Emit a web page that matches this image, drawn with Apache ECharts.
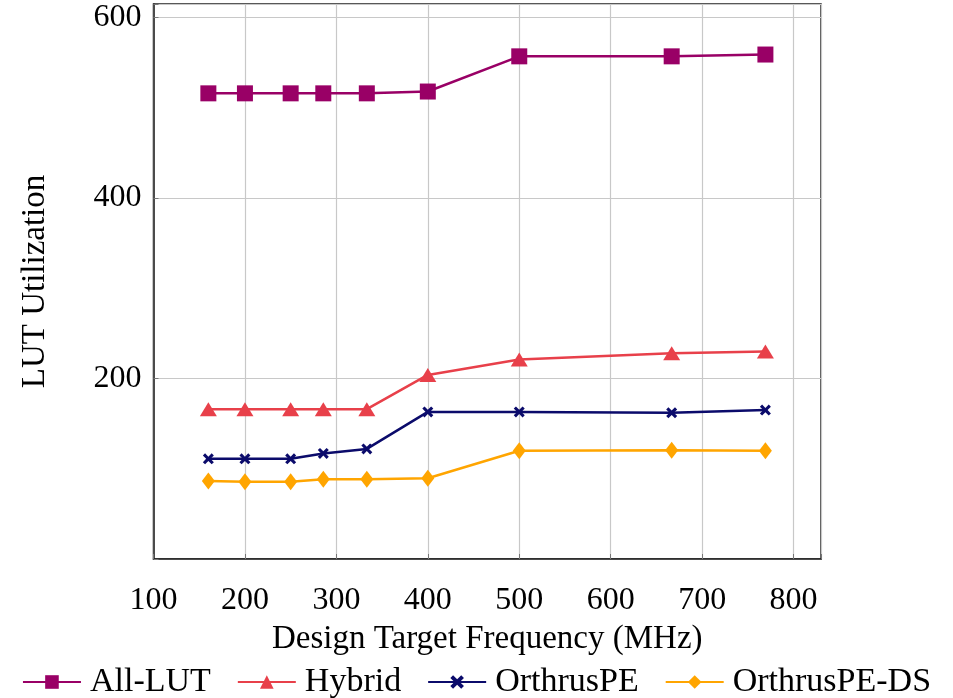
<!DOCTYPE html>
<html>
<head>
<meta charset="utf-8">
<script src="https://cdn.jsdelivr.net/npm/echarts@6/dist/echarts.min.js"></script>
<style>
html,body{margin:0;padding:0;background:#fff;}
#chart{width:953px;height:698px;}
</style>
</head>
<body>
<div id="chart"></div>
<script>
// Design target frequencies (MHz)
const freqs = [160, 200, 250, 285.7, 333.3, 400, 500, 666.7, 769.2];
const allLUT = [516, 516, 516, 516, 516, 518, 557, 557, 559];
const hybrid = [166, 166, 166, 166, 166, 204, 221, 228, 230];
const orthrusPE = [111, 111, 111, 117, 122, 163, 163, 162, 165];
const orthrusPEDS = [86.5, 85.5, 85.5, 88.5, 88.5, 89.5, 120, 120.5, 120];
const seriesNames = ['All-LUT', 'Hybrid', 'OrthrusPE', 'OrthrusPE-DS'];
const xTicks = [100, 200, 300, 400, 500, 600, 700, 800];
const yTicks = [200, 400, 600];

const FONT = '"Liberation Serif", "DejaVu Serif", serif';
const pairs = vals => freqs.map((f, i) => [f, vals[i]]);
const crossPath = 'path://M0,2 L2,0 L5,3 L8,0 L10,2 L7,5 L10,8 L8,10 L5,7 L2,10 L0,8 L3,5 Z';

const styles = [
  {color: '#990066', symbol: 'rect', size: 16},
  {color: '#E8404A', symbol: 'triangle', size: [17, 14]},
  {color: '#0B0B6B', symbol: crossPath, size: 11},
  {color: '#FFA500', symbol: 'diamond', size: [13, 17]}
];
const data = [allLUT, hybrid, orthrusPE, orthrusPEDS];

const chart = echarts.init(document.getElementById('chart'));
chart.setOption({
  animation: false,
  backgroundColor: '#fff',
  textStyle: {fontFamily: FONT},
  grid: {left: 153.5, right: 132, top: 4, bottom: 139, show: true, borderColor: '#222', borderWidth: 1.5, containLabel: false},
  legend: {
    top: 660, left: 'center',
    itemWidth: 58, itemHeight: 17, itemGap: 26,
    textStyle: {fontFamily: FONT, fontSize: 34, color: '#000', padding: [0, 0, 0, 4]},
    data: seriesNames
  },
  xAxis: {
    type: 'value', min: 100, max: 830, interval: 100,
    name: 'Design Target Frequency (MHz)', nameLocation: 'middle', nameGap: 64,
    nameTextStyle: {fontFamily: FONT, fontSize: 33, color: '#000'},
    axisLine: {show: true, lineStyle: {color: '#222', width: 1.5}},
    axisTick: {show: true, inside: true, length: 5, lineStyle: {color: '#777'}},
    axisLabel: {fontFamily: FONT, fontSize: 32, color: '#000', margin: 26,
      formatter: v => xTicks.includes(v) ? String(v) : ''},
    splitLine: {show: true, lineStyle: {color: '#c8c8c8', width: 1.2}}
  },
  yAxis: {
    type: 'value', min: 0, max: 615, interval: 200,
    name: 'LUT Utilization', nameLocation: 'middle', nameGap: 102,
    nameTextStyle: {fontFamily: FONT, fontSize: 33, color: '#000'},
    axisLine: {show: true, lineStyle: {color: '#222', width: 1.5}},
    axisTick: {show: true, inside: true, length: 5, lineStyle: {color: '#777'}},
    axisLabel: {fontFamily: FONT, fontSize: 32, color: '#000', margin: 12,
      formatter: v => yTicks.includes(v) ? String(v) : ''},
    splitLine: {show: true, lineStyle: {color: '#c8c8c8', width: 1.2}}
  },
  series: seriesNames.map((name, i) => ({
    name: name,
    type: 'line',
    data: pairs(data[i]),
    symbol: styles[i].symbol,
    symbolSize: styles[i].size,
    symbolKeepAspect: true,
    showAllSymbol: true,
    lineStyle: {color: styles[i].color, width: 2.5},
    itemStyle: {color: styles[i].color, opacity: 1},
    z: 10 - i
  }))
});
</script>
</body>
</html>
